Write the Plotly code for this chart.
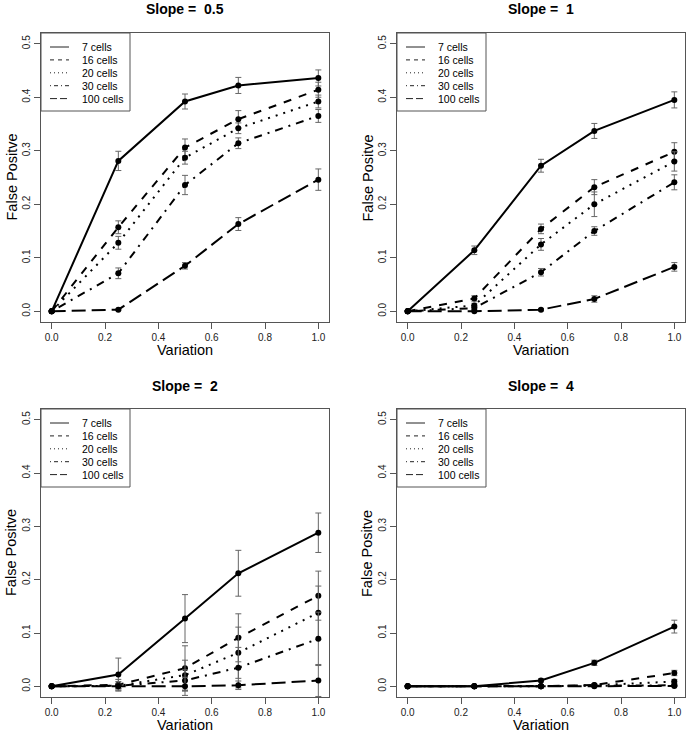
import plotly.graph_objects as go

# ---------------- data ----------------
variation = [0.0, 0.25, 0.5, 0.7, 1.0]
series_names = ["7 cells", "16 cells", "20 cells", "30 cells", "100 cells"]
slope_labels = ["0.5", "1", "2", "4"]
x_ticks = [0.0, 0.2, 0.4, 0.6, 0.8, 1.0]
y_ticks = [0.0, 0.1, 0.2, 0.3, 0.4, 0.5]

# false-positive rate, one list per series (7, 16, 20, 30, 100 cells)
fp_slope_05 = [
    [0.0, 0.281, 0.392, 0.422, 0.436],
    [0.0, 0.157, 0.306, 0.359, 0.414],
    [0.0, 0.128, 0.287, 0.342, 0.392],
    [0.0, 0.071, 0.236, 0.314, 0.365],
    [0.0, 0.003, 0.085, 0.163, 0.246],
]
err_slope_05 = [
    [0.0, 0.018, 0.014, 0.015, 0.015],
    [0.0, 0.012, 0.016, 0.016, 0.014],
    [0.0, 0.012, 0.012, 0.010, 0.012],
    [0.0, 0.010, 0.018, 0.010, 0.012],
    [0.0, 0.001, 0.006, 0.012, 0.020],
]

fp_slope_1 = [
    [0.0, 0.114, 0.272, 0.337, 0.395],
    [0.0, 0.024, 0.154, 0.232, 0.298],
    [0.0, 0.011, 0.125, 0.200, 0.280],
    [0.0, 0.006, 0.073, 0.150, 0.241],
    [0.0, 0.000, 0.003, 0.023, 0.083],
]
err_slope_1 = [
    [0.0, 0.008, 0.012, 0.014, 0.015],
    [0.0, 0.005, 0.009, 0.014, 0.017],
    [0.0, 0.004, 0.011, 0.023, 0.018],
    [0.0, 0.003, 0.007, 0.008, 0.014],
    [0.0, 0.000, 0.002, 0.006, 0.008],
]

fp_slope_2 = [
    [0.0, 0.022, 0.127, 0.212, 0.288],
    [0.0, 0.003, 0.034, 0.091, 0.170],
    [0.0, 0.001, 0.021, 0.063, 0.138],
    [0.0, 0.001, 0.011, 0.035, 0.089],
    [0.0, 0.000, 0.000, 0.002, 0.011],
]
err_slope_2 = [
    [0.0, 0.031, 0.045, 0.043, 0.037],
    [0.0, 0.010, 0.042, 0.045, 0.046],
    [0.0, 0.008, 0.028, 0.048, 0.050],
    [0.0, 0.005, 0.020, 0.038, 0.050],
    [0.0, 0.004, 0.017, 0.008, 0.030],
]

fp_slope_4 = [
    [0.0, 0.000, 0.011, 0.044, 0.112],
    [0.0, 0.000, 0.000, 0.0025, 0.025],
    [0.0, 0.000, 0.000, 0.002, 0.009],
    [0.0, 0.000, 0.000, 0.001, 0.002],
    [0.0, 0.000, 0.000, 0.000, 0.0005],
]
err_slope_4 = [
    [0.0, 0.000, 0.003, 0.005, 0.012],
    [0.0, 0.000, 0.000, 0.002, 0.005],
    [0.0, 0.000, 0.000, 0.002, 0.004],
    [0.0, 0.000, 0.000, 0.001, 0.002],
    [0.0, 0.000, 0.000, 0.000, 0.001],
]

panel_values = [fp_slope_05, fp_slope_1, fp_slope_2, fp_slope_4]
panel_errors = [err_slope_05, err_slope_1, err_slope_2, err_slope_4]

# ---------------- styling ----------------
W, H = 688, 732
FONT = "Liberation Sans, Arial, Helvetica, sans-serif"
plot_dash = ["solid", "8px,8px", "2px,6px", "2px,6px,8px,6px", "14px,6px"]
key_dash = ["solid", "4px,4px", "1px,3px", "1px,3px,4px,3px", "7px,3px"]
BOX = "#555555"

# plot-area boxes in pixels: (left, top, right, bottom)
boxes = [(41, 33, 329, 322), (397, 33, 685, 322),
         (41, 409, 329, 697), (397, 409, 685, 697)]


def px(xp):
    return xp / W


def py(yp):
    return 1 - yp / H


fig = go.Figure()
layout = dict(
    width=W, height=H,
    margin=dict(l=0, r=0, t=0, b=0),
    paper_bgcolor="white", plot_bgcolor="white",
    showlegend=False,
    font=dict(family=FONT, color="#111111"),
)
annotations = []
shapes = []

for p in range(4):
    left, top, right, bottom = boxes[p]
    xa = "xaxis" if p == 0 else f"xaxis{p+1}"
    ya = "yaxis" if p == 0 else f"yaxis{p+1}"
    xr = "x" if p == 0 else f"x{p+1}"
    yr = "y" if p == 0 else f"y{p+1}"

    layout[xa] = dict(
        domain=[px(left), px(right)], anchor=yr, range=[-0.04, 1.04],
        tickvals=x_ticks, tickformat=".1f", ticks="outside", ticklen=6,
        tickcolor=BOX, showline=True, mirror=True, linecolor=BOX, linewidth=1,
        showgrid=False, zeroline=False,
        tickfont=dict(size=10, family=FONT, color="#222222"),
    )
    layout[ya] = dict(
        domain=[py(bottom), py(top)], anchor=xr, range=[-0.02, 0.52],
        tickvals=y_ticks, tickformat=".1f", ticks="outside", ticklen=6,
        tickcolor=BOX, showline=True, mirror=True, linecolor=BOX, linewidth=1,
        showgrid=False, zeroline=False, tickangle=-90,
        tickfont=dict(size=10, family=FONT, color="#222222"),
    )

    for s in range(5):
        fig.add_trace(go.Scatter(
            x=variation, y=panel_values[p][s], xaxis=xr, yaxis=yr,
            mode="lines+markers", name=series_names[s],
            line=dict(color="black", width=2, dash=plot_dash[s]),
            marker=dict(color="black", size=6, symbol="circle"),
            error_y=dict(type="data", array=panel_errors[p][s], visible=True,
                         color="#666666", thickness=1, width=3),
            showlegend=False,
        ))

    cx = (left + right) / 2
    cy = (top + bottom) / 2
    annotations.append(dict(
        text=f"<b>Slope =  {slope_labels[p]}</b>", x=px(cx), y=py(top - 23.5),
        xref="paper", yref="paper", showarrow=False, xanchor="center",
        yanchor="middle", font=dict(size=14, family=FONT, color="black")))
    annotations.append(dict(
        text="Variation", x=px(cx), y=py(bottom + 28),
        xref="paper", yref="paper", showarrow=False, xanchor="center",
        yanchor="middle", font=dict(size=14.5, family=FONT, color="black")))
    annotations.append(dict(
        text="False Positve", x=px(left - 30), y=py(cy), textangle=-90,
        xref="paper", yref="paper", showarrow=False, xanchor="center",
        yanchor="middle", font=dict(size=14.5, family=FONT, color="black")))

    # legend box
    lw, lh = 89, 78
    shapes.append(dict(type="rect", xref="paper", yref="paper",
                       x0=px(left), x1=px(left + lw), y0=py(top + lh), y1=py(top),
                       line=dict(color=BOX, width=1), fillcolor="white", layer="above"))
    for s in range(5):
        ry = top + 14 + 12.9 * s
        shapes.append(dict(type="line", xref="paper", yref="paper",
                           x0=px(left + 9), x1=px(left + 28), y0=py(ry), y1=py(ry),
                           line=dict(color="#222222", width=1, dash=key_dash[s]),
                           layer="above"))
        annotations.append(dict(
            text=series_names[s], x=px(left + 39), y=py(ry),
            xref="paper", yref="paper", showarrow=False, xanchor="left",
            yanchor="middle", font=dict(size=10.5, family=FONT, color="black")))

layout["annotations"] = annotations
layout["shapes"] = shapes
fig.update_layout(**layout)
fig.write_html("out.html",
               config={"displayModeBar": False},
               post_script="document.body.style.margin='0px';"
                           "document.body.style.overflow='hidden';")
